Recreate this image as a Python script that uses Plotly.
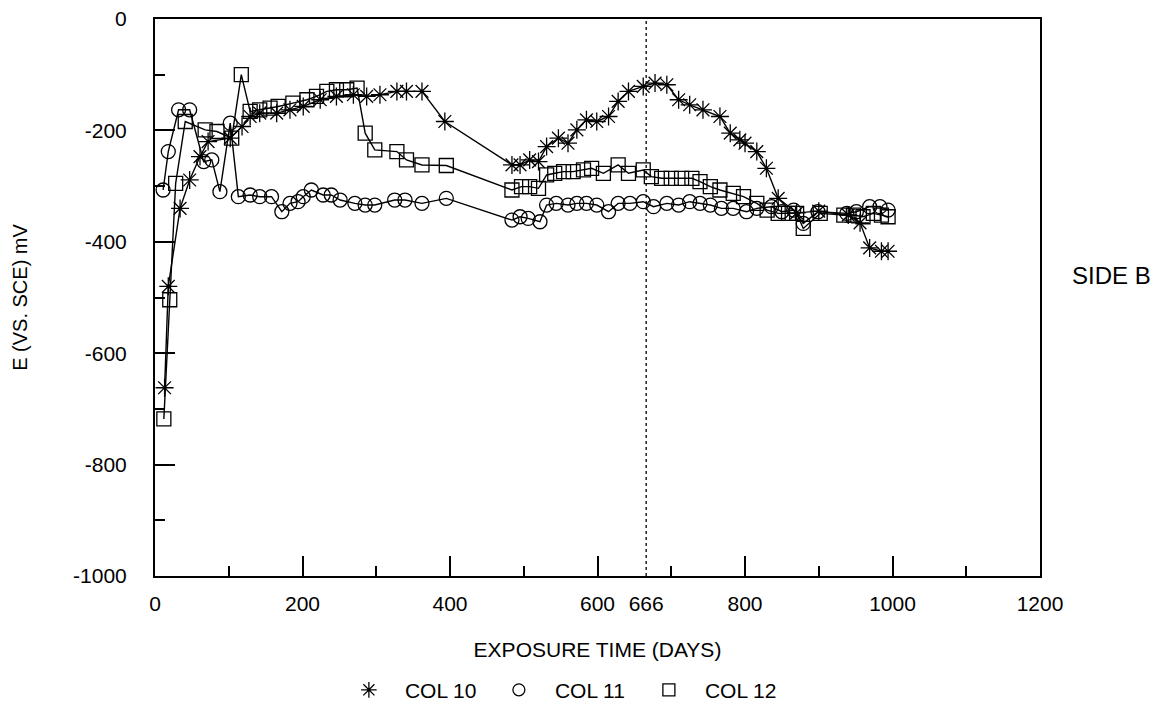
import plotly.graph_objects as go

# ---- data ----
days_col10 = [13, 18, 34, 47, 61, 72, 102, 118, 129, 142, 165, 183, 201, 224, 246, 269, 287, 305, 328, 341,
              362, 393, 484, 495, 508, 520, 531, 547, 560, 572, 585, 599, 615, 628, 642, 662, 678, 694, 710, 725,
              743, 766, 780, 793, 800, 816, 829, 845, 870, 900, 940, 956, 969, 985, 994]
e_col10 = [-662, -480, -340, -289, -247, -220, -214, -193, -175, -169, -169, -163, -157, -145, -139, -136, -139, -136, -130, -130,
           -130, -184, -262, -262, -253, -256, -229, -214, -223, -199, -181, -184, -175, -148, -130, -121, -115, -118, -145, -154,
           -163, -175, -205, -217, -223, -238, -268, -322, -348, -345, -352, -366, -411, -417, -417]

days_col11 = [11, 18, 32, 47, 66, 77, 88, 102, 113, 129, 142, 158, 172, 183, 194, 201, 212, 228, 239, 251,
              271, 285, 298, 325, 339, 362, 395, 484, 495, 506, 522, 531, 544, 560, 572, 585, 599, 615, 628, 644,
              662, 676, 694, 710, 725, 739, 753, 768, 784, 802, 816, 836, 850, 866, 879, 899, 938, 951, 969, 983, 994]
e_col11 = [-307, -238, -163, -163, -256, -253, -310, -187, -319, -316, -319, -319, -346, -331, -328, -319, -307, -316, -316, -325,
           -331, -334, -334, -325, -325, -331, -322, -361, -355, -358, -364, -334, -331, -334, -331, -331, -334, -346, -331, -331,
           -328, -337, -331, -334, -328, -331, -334, -340, -340, -346, -340, -337, -346, -343, -367, -346, -349, -346, -337, -337, -343]

days_col12 = [12, 20, 28, 41, 68, 84, 104, 117, 129, 142, 156, 167, 187, 206, 219, 233, 246, 260, 274, 285,
              298, 328, 341, 362, 395, 484, 497, 508, 520, 531, 542, 554, 567, 581, 592, 608, 628, 642, 662, 673,
              687, 700, 714, 728, 739, 753, 766, 784, 798, 816, 830, 845, 859, 870, 879, 902, 934, 947, 960, 974, 985, 994]
e_col12 = [-718, -504, -295, -184, -199, -202, -214, -100, -166, -163, -160, -157, -151, -145, -139, -130, -127, -127, -124, -205,
           -235, -238, -253, -262, -263, -307, -301, -301, -304, -280, -277, -274, -274, -271, -268, -277, -262, -277, -271, -283,
           -286, -286, -286, -286, -292, -301, -307, -313, -319, -331, -343, -349, -349, -349, -376, -349, -352, -352, -355, -349, -352, -355]

series_names = ["COL 10", "COL 11", "COL 12"]
marker_symbols = ["asterisk-open", "circle-open", "square-open"]

x_tick_vals = [0, 200, 400, 600, 800, 1000, 1200]
x_tick_text = ["0", "200", "400", "600", "800", "1000", "1200"]
marked_day = 666
y_tick_vals = [0, -200, -400, -600, -800, -1000]
y_tick_text = ["0", "-200", "-400", "-600", "-800", "-1000"]

FONT = "Liberation Sans, Arial, sans-serif"

fig = go.Figure()
all_days = [days_col10, days_col11, days_col12]
all_e = [e_col10, e_col11, e_col12]
sizes = [15, 14, 14]
for name, sym, d, e, s in zip(series_names, marker_symbols, all_days, all_e, sizes):
    fig.add_trace(go.Scatter(
        x=d, y=e, mode="lines+markers", name=name, showlegend=False,
        line=dict(color="black", width=1.4),
        marker=dict(symbol=sym, size=s, color="black", line=dict(color="black", width=1.3)),
    ))
# legend-only entries (marker without line, as in the reference)
for name, sym, s in zip(series_names, marker_symbols, sizes):
    fig.add_trace(go.Scatter(
        x=[None], y=[None], mode="markers", name=name, showlegend=True,
        marker=dict(symbol=sym, size=s - 2, color="black", line=dict(color="black", width=1.3)),
    ))
# carrier for the "666" label axis
fig.add_trace(go.Scatter(x=[marked_day], y=[None], xaxis="x2", showlegend=False, hoverinfo="skip"))

fig.add_shape(type="line", xref="x", yref="paper", x0=marked_day, x1=marked_day, y0=0, y1=1,
              line=dict(color="black", width=1.3, dash="dot"))

fig.add_annotation(text="SIDE B", xref="paper", yref="paper", x=1.081, y=0.539,
                   xanchor="center", yanchor="middle",
                   showarrow=False, font=dict(family=FONT, size=24, color="black"))

fig.update_layout(
    width=1168, height=709,
    margin=dict(l=155, r=128, t=19, b=133, autoexpand=False),
    paper_bgcolor="white", plot_bgcolor="white",
    font=dict(family=FONT, size=21, color="black"),
    xaxis=dict(
        range=[0, 1200], tickmode="array", tickvals=x_tick_vals, ticktext=x_tick_text,
        ticks="inside", ticklen=20, tickwidth=1.5, tickcolor="black",
        minor=dict(tickmode="linear", tick0=0, dtick=100, ticks="inside", ticklen=10, tickwidth=1.5, tickcolor="black"),
        showline=True, linewidth=2, linecolor="black", mirror=True, showgrid=False, zeroline=False,
        tickfont=dict(family=FONT, size=21), ticklabelstandoff=8,
        title=dict(text="EXPOSURE TIME (DAYS)", font=dict(family=FONT, size=21), standoff=28),
    ),
    xaxis2=dict(
        range=[0, 1200], overlaying="x", anchor="y", side="bottom", tickmode="array",
        tickvals=[marked_day], ticktext=[str(marked_day)], ticks="", showline=False, showgrid=False,
        zeroline=False, tickfont=dict(family=FONT, size=21), ticklabelstandoff=13,
    ),
    yaxis=dict(
        range=[-1000, 0], tickmode="array", tickvals=y_tick_vals, ticktext=y_tick_text,
        ticks="inside", ticklen=20, tickwidth=1.5, tickcolor="black",
        minor=dict(tickmode="linear", tick0=0, dtick=100, ticks="inside", ticklen=10, tickwidth=1.5, tickcolor="black"),
        showline=True, linewidth=2, linecolor="black", mirror=True, showgrid=False, zeroline=False,
        tickfont=dict(family=FONT, size=21), ticklabelstandoff=22,
        title=dict(text="E (VS. SCE) mV", font=dict(family=FONT, size=20), standoff=40),
    ),
    legend=dict(orientation="h", x=0.201, xanchor="left", y=-0.205, yanchor="middle",
                font=dict(family=FONT, size=21), itemwidth=62, entrywidth=73, entrywidthmode="pixels",
                bgcolor="rgba(0,0,0,0)"),
    showlegend=True,
)

fig.write_html("out.html")
